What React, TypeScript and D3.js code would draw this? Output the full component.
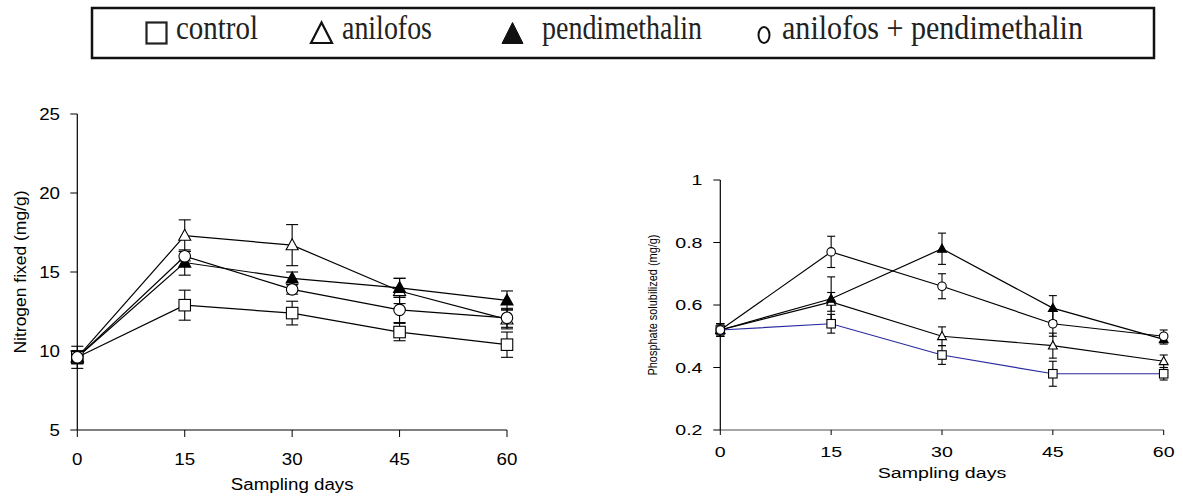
import React from "react";
import * as d3 from "d3";

const days = [0, 15, 30, 45, 60];
const seriesNames = ["control", "anilofos", "pendimethalin", "anilofos + pendimethalin"];
const seriesShapes = ["square", "triangle", "filledTriangle", "circle"];

// Nitrogen fixed (mg/g)
const nControl = [9.6, 12.9, 12.4, 11.2, 10.4];
const nControlErr = [0.7, 0.95, 0.75, 0.55, 0.8];
const nAnilofos = [9.6, 17.3, 16.7, 13.8, 12.0];
const nAnilofosErr = [0.4, 1.0, 1.3, 0.8, 0.6];
const nPendi = [9.6, 15.6, 14.6, 14.0, 13.2];
const nPendiErr = [0.4, 0.8, 0.4, 0.6, 0.6];
const nCombo = [9.6, 16.0, 13.9, 12.6, 12.1];
const nComboErr = [0.4, 0.3, 0.3, 0.8, 0.6];

// Phosphate solubilized (mg/g)
const pControl = [0.52, 0.54, 0.44, 0.38, 0.38];
const pControlErr = [0.02, 0.03, 0.03, 0.04, 0.02];
const pAnilofos = [0.52, 0.61, 0.50, 0.47, 0.42];
const pAnilofosErr = [0.02, 0.03, 0.03, 0.04, 0.02];
const pPendi = [0.52, 0.62, 0.78, 0.59, 0.49];
const pPendiErr = [0.02, 0.07, 0.05, 0.04, 0.015];
const pCombo = [0.52, 0.77, 0.66, 0.54, 0.50];
const pComboErr = [0.02, 0.05, 0.04, 0.04, 0.02];

const nTicks = [5, 10, 15, 20, 25];
const pTicks = [0.2, 0.4, 0.6, 0.8, 1];

const SANS = "'Liberation Sans', Arial, sans-serif";
const SERIF = "'Liberation Serif', 'Times New Roman', serif";

const charW = (s: string) =>
  s.split("").reduce((a, c) => a + (c === "." ? 0.278 : c === " " ? 0.278 : 0.556), 0);

function Marker({ shape, x, y, size }: { shape: string; x: number; y: number; size: number }) {
  const h = size / 2;
  if (shape === "square")
    return <rect x={x - h} y={y - h} width={size} height={size} fill="white" stroke="black" strokeWidth={1.1} />;
  if (shape === "circle")
    return <circle cx={x} cy={y} r={h} fill="white" stroke="black" strokeWidth={1.1} />;
  const pts = `${x},${y - h * 1.1} ${x - h * 1.05},${y + h * 0.8} ${x + h * 1.05},${y + h * 0.8}`;
  return (
    <polygon
      points={pts}
      fill={shape === "filledTriangle" ? "black" : "white"}
      stroke="black"
      strokeWidth={1.1}
    />
  );
}

type PanelProps = {
  x0: number; x1: number; yTop: number; yBot: number;
  domain: [number, number]; ticks: number[];
  values: number[][]; errs: number[][]; lineColors: string[];
  markerSize: number; capW: number;
  fontSize: number; stretch: number;
  tickLabelFmt: (v: number) => string;
  yLabel: string; yLabelX: number; yLabelLen: number; yLabelFont: number;
  xLabelBaseline: number; xTitleBaseline: number; yLabelRight: number;
  xAxisColor: string; xAxisWidth: number; xTickLen: number;
};

function Panel(p: PanelProps) {
  const x = d3.scaleLinear().domain([0, 60]).range([p.x0, p.x1]);
  const y = d3.scaleLinear().domain(p.domain).range([p.yBot, p.yTop]);
  const line = d3.line<number>().x((_, i) => x(days[i])).y((d) => y(d));
  const fs = p.fontSize;
  return (
    <g>
      <line x1={x(0)} x2={x(60)} y1={p.yBot} y2={p.yBot} stroke={p.xAxisColor} strokeWidth={p.xAxisWidth} />
      <line x1={x(0)} x2={x(0)} y1={p.yTop} y2={p.yBot} stroke="black" strokeWidth={1.2} />
      {p.ticks.map((t) => (
        <g key={"yt" + t}>
          <line x1={x(0) - 7} x2={x(0)} y1={y(t)} y2={y(t)} stroke="black" strokeWidth={1} />
          <text
            x={p.yLabelRight}
            y={y(t) + fs * 0.36}
            fontSize={fs}
            fontFamily={SANS}
            textAnchor="end"
            textLength={charW(p.tickLabelFmt(t)) * fs * p.stretch}
            lengthAdjust="spacingAndGlyphs"
          >
            {p.tickLabelFmt(t)}
          </text>
        </g>
      ))}
      {days.map((d) => (
        <g key={"xt" + d}>
          <line x1={x(d)} x2={x(d)} y1={p.yBot} y2={p.yBot + p.xTickLen} stroke="black" strokeWidth={1} />
          <text
            x={x(d)}
            y={p.xLabelBaseline}
            fontSize={fs}
            fontFamily={SANS}
            textAnchor="middle"
            textLength={charW(String(d)) * fs * p.stretch}
            lengthAdjust="spacingAndGlyphs"
          >
            {d}
          </text>
        </g>
      ))}
      <text
        x={(x(0) + x(60)) / 2}
        y={p.xTitleBaseline}
        fontSize={fs}
        fontFamily={SANS}
        textAnchor="middle"
        textLength={6.558 * fs * p.stretch}
        lengthAdjust="spacingAndGlyphs"
      >
        Sampling days
      </text>
      <text
        transform={`translate(${p.yLabelX},${(p.yTop + p.yBot) / 2}) rotate(-90)`}
        fontSize={p.yLabelFont}
        fontFamily={SANS}
        textAnchor="middle"
        textLength={p.yLabelLen}
        lengthAdjust="spacingAndGlyphs"
      >
        {p.yLabel}
      </text>
      {p.values.map((vals, si) => (
        <path key={"l" + si} d={line(vals) || ""} fill="none" stroke={p.lineColors[si]} strokeWidth={1.2} />
      ))}
      {p.values.map((vals, si) =>
        vals.map((v, i) => {
          const e = p.errs[si][i];
          const cx = x(days[i]);
          const hw = p.capW / 2;
          return (
            <g key={`e${si}-${i}`} stroke="black" strokeWidth={1.1}>
              <line x1={cx} x2={cx} y1={y(v + e)} y2={y(v - e)} />
              <line x1={cx - hw} x2={cx + hw} y1={y(v + e)} y2={y(v + e)} />
              <line x1={cx - hw} x2={cx + hw} y1={y(v - e)} y2={y(v - e)} />
            </g>
          );
        })
      )}
      {p.values.map((vals, si) =>
        vals.map((v, i) => (
          <Marker key={`m${si}-${i}`} shape={seriesShapes[si]} x={x(days[i])} y={y(v)} size={p.markerSize} />
        ))
      )}
    </g>
  );
}

function Legend() {
  const base = 39;
  const textPos = [
    { tx: 176, tw: 82 },
    { tx: 342, tw: 90 },
    { tx: 542, tw: 160 },
    { tx: 782, tw: 301 },
  ];
  return (
    <g>
      <rect x={92} y={8} width={1062} height={50} fill="white" stroke="#111" strokeWidth={2.5} />
      <rect x={146.5} y={22.5} width={20} height={21} fill="white" stroke="#222" strokeWidth={2.2} />
      <polygon points="321.5,22.5 311,43 332,43" fill="white" stroke="#111" strokeWidth={2.2} />
      <polygon points="512.5,22.5 502,43.5 523,43.5" fill="#111" stroke="#111" strokeWidth={1} />
      <ellipse cx={764} cy={35} rx={5.5} ry={8} fill="white" stroke="#111" strokeWidth={2} />
      {seriesNames.map((name, i) => (
        <text
          key={i}
          x={textPos[i].tx}
          y={base}
          fontSize={33}
          fontFamily={SERIF}
          fill="#222"
          textLength={textPos[i].tw}
          lengthAdjust="spacingAndGlyphs"
        >
          {name}
        </text>
      ))}
    </g>
  );
}

export default function App() {
  return (
    <svg
      width={1183}
      height={500}
      style={{ position: "absolute", left: 0, top: 0, background: "white" }}
    >
      <rect width={1183} height={500} fill="white" />
      <Legend />
      <Panel
        x0={77.3}
        x1={507}
        yTop={114}
        yBot={430}
        domain={[5, 25]}
        ticks={nTicks}
        values={[nControl, nAnilofos, nPendi, nCombo]}
        errs={[nControlErr, nAnilofosErr, nPendiErr, nComboErr]}
        lineColors={["black", "black", "black", "black"]}
        markerSize={11.5}
        capW={12}
        fontSize={16}
        stretch={1.17}
        tickLabelFmt={(v) => String(v)}
        yLabel="Nitrogen fixed (mg/g)"
        yLabelX={26}
        yLabelLen={163}
        yLabelFont={16.5}
        xLabelBaseline={465}
        xTitleBaseline={490}
        yLabelRight={60}
        xAxisColor="black"
        xAxisWidth={1.2}
        xTickLen={7}
      />
      <Panel
        x0={720.3}
        x1={1163.7}
        yTop={180}
        yBot={430}
        domain={[0.2, 1]}
        ticks={pTicks}
        values={[pControl, pAnilofos, pPendi, pCombo]}
        errs={[pControlErr, pAnilofosErr, pPendiErr, pComboErr]}
        lineColors={["#2a2aa0", "black", "black", "black"]}
        markerSize={8.5}
        capW={8}
        fontSize={14}
        stretch={1.4}
        tickLabelFmt={(v) => String(+v.toFixed(1))}
        yLabel="Phosphate solubilized (mg/g)"
        yLabelX={657}
        yLabelLen={141}
        yLabelFont={12}
        xLabelBaseline={456.5}
        xTitleBaseline={478}
        yLabelRight={702.5}
        xAxisColor="#888"
        xAxisWidth={1.6}
        xTickLen={5}
      />
    </svg>
  );
}
